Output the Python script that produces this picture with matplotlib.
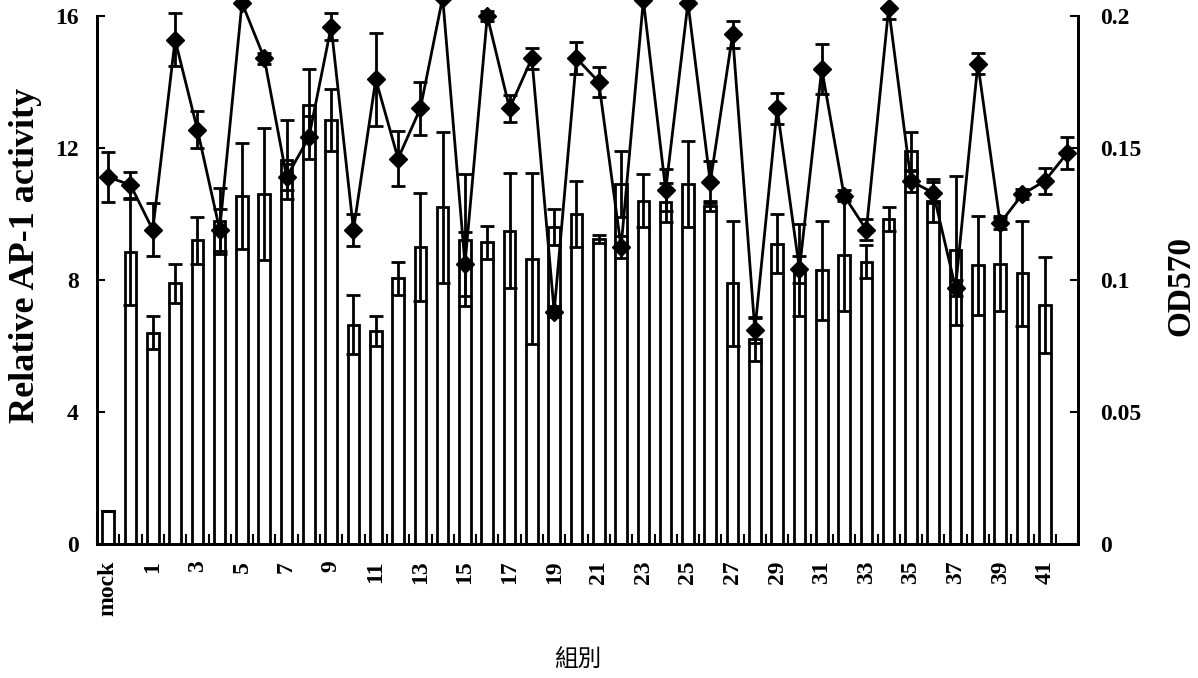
import numpy as np
import matplotlib.pyplot as plt

# relative AP-1 activity (bars, left axis)
bar_vals = [1.0, 8.85, 6.4, 7.9, 9.2, 9.8, 10.55, 10.6, 11.65, 13.3,
            12.85, 6.65, 6.45, 8.05, 9.0, 10.2, 9.2, 9.15, 9.5, 8.65,
            9.6, 10.0, 9.25, 10.9, 10.4, 10.35, 10.9, 10.25, 7.9, 6.2,
            9.1, 8.3, 8.3, 8.75, 8.55, 9.85, 11.9, 10.4, 8.9, 8.45,
            8.5, 8.2, 7.25]
bar_err = [0.0, 1.6, 0.5, 0.6, 0.7, 1.0, 1.6, 2.0, 1.2, 1.1,
           0.95, 0.9, 0.45, 0.5, 1.65, 2.3, 2.0, 0.5, 1.75, 2.6,
           0.55, 1.0, 0.12, 1.0, 0.8, 0.6, 1.3, 0.15, 1.9, 0.65,
           0.9, 1.4, 1.5, 1.7, 0.5, 0.35, 0.6, 0.65, 2.25, 1.5,
           1.45, 1.6, 1.45]

# OD570 (line, right axis)
od_vals = [0.139, 0.136, 0.119, 0.191, 0.157, 0.119, 0.205, 0.184, 0.139, 0.154,
           0.196, 0.119, 0.176, 0.146, 0.165, 0.207, 0.106, 0.200, 0.165, 0.184,
           0.088, 0.184, 0.175, 0.1125, 0.206, 0.134, 0.205, 0.137, 0.193, 0.081,
           0.165, 0.104, 0.180, 0.132, 0.119, 0.203, 0.1375, 0.133, 0.097, 0.182,
           0.1215, 0.1325, 0.1375, 0.148]
od_err = [0.0095, 0.005, 0.01, 0.01, 0.007, 0.008, 0.0, 0.002, 0.005, 0.008,
          0.005, 0.006, 0.0175, 0.0105, 0.01, 0.0, 0.012, 0.002, 0.005, 0.004,
          0.002, 0.006, 0.0055, 0.004, 0.0, 0.008, 0.0, 0.008, 0.005, 0.005,
          0.006, 0.005, 0.0095, 0.002, 0.004, 0.004, 0.004, 0.004, 0.003, 0.004,
          0.002, 0.002, 0.005, 0.006]

tick_labels = ["mock"] + [str(i) for i in range(1, 42, 2)]

serif = "Liberation Serif"
fig = plt.figure(figsize=(11.98, 6.78), dpi=100)
ax = fig.add_axes([0.081, 0.1976, 0.819, 0.7788])
ax2 = ax.twinx()

xb = np.arange(len(bar_vals))
xl = np.arange(len(od_vals))

ax.bar(xb, bar_vals, width=0.52, color="white", edgecolor="black", linewidth=2.0, zorder=2)
ax.errorbar(xb, bar_vals, yerr=bar_err, fmt="none", ecolor="black", elinewidth=2.0,
            capsize=5, capthick=2.0, zorder=3)

ax2.errorbar(xl, od_vals, yerr=od_err, color="black", linewidth=2.0, marker="D",
             markersize=9, elinewidth=2.0, capsize=5, capthick=2.0, clip_on=False, zorder=4)

ax.set_xlim(-0.5, len(od_vals) - 0.5)
ax.set_ylim(0, 16)
ax2.set_ylim(0, 0.2)
ax.set_yticks([0, 4, 8, 12, 16])
ax2.set_yticks([0, 0.05, 0.1, 0.15, 0.2])
ax2.set_yticklabels(["0", "0.05", "0.1", "0.15", "0.2"])

# category boundaries as ticks, labels on every other category
ax.set_xticks(np.arange(-0.5, len(od_vals), 1.0))
ax.set_xticklabels([])
ax.set_xticks(np.arange(0, 43, 2), minor=True)
ax.set_xticklabels(tick_labels, minor=True, rotation=90, fontfamily=serif,
                   fontweight="bold", fontsize=17)
ax.tick_params(axis="x", which="major", direction="in", length=7, width=1.5)
ax.tick_params(axis="x", which="minor", length=0, pad=12)
ax.tick_params(axis="y", direction="in", length=6, width=1.5, pad=13)
ax2.tick_params(axis="y", direction="in", length=6, width=1.5, pad=16)

for lab in ax.get_yticklabels() + ax2.get_yticklabels():
    lab.set_fontfamily(serif)
    lab.set_fontweight("bold")
    lab.set_fontsize(17)

for a in (ax, ax2):
    a.spines["top"].set_visible(False)
    for s in ("left", "right", "bottom"):
        a.spines[s].set_linewidth(2.0)

fig.text(0.021, 0.624, "Relative AP-1 activity", rotation=90, fontfamily=serif,
         fontweight="bold", fontsize=26, ha="center", va="center")
fig.text(0.986, 0.578, "OD570", rotation=90, fontfamily=serif,
         fontweight="bold", fontsize=24, ha="center", va="center")
fig.text(0.482, 0.01, "組別", fontfamily=["Noto Sans CJK TC", "DejaVu Sans"],
         fontsize=17, ha="center", va="bottom")

fig.savefig("out.png", dpi=100)
